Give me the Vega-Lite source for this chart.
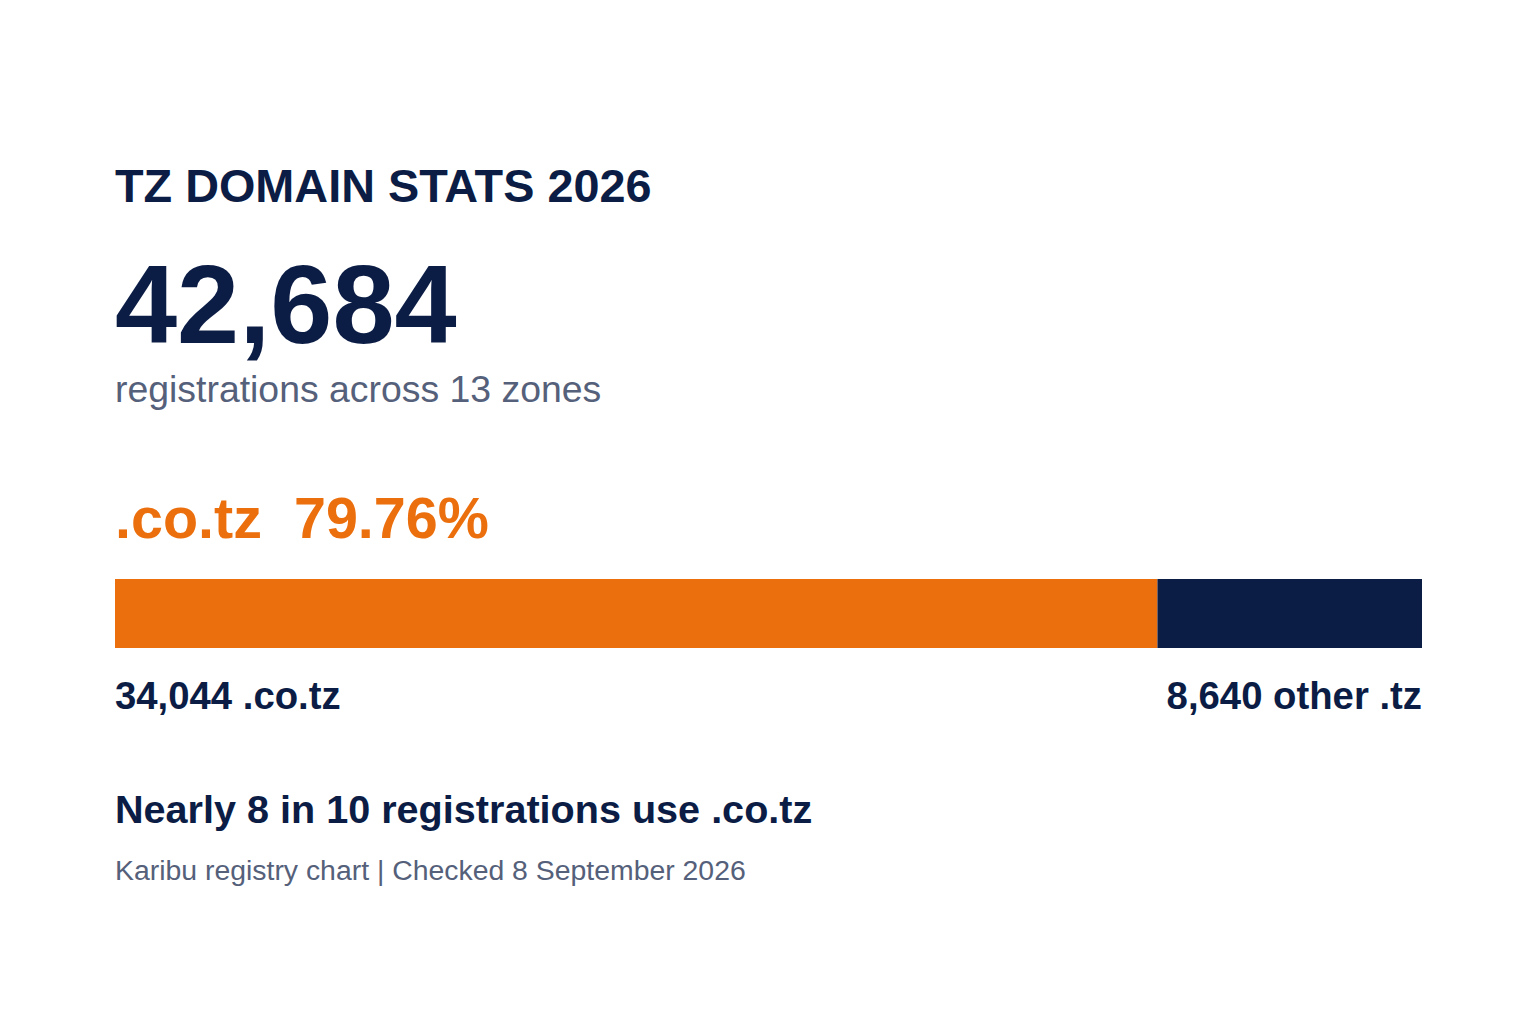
{
  "$schema": "https://vega.github.io/schema/vega-lite/v6.json",
  "width": 1307,
  "height": 69,
  "autosize": {"type": "none"},
  "padding": {"left": 115, "top": 579, "right": 114, "bottom": 376},
  "background": "white",
  "config": {
    "view": {"stroke": null},
    "font": "Liberation Sans",
    "text": {"font": "Liberation Sans", "baseline": "alphabetic", "align": "left"}
  },
  "datasets": {
    "zones": [
      {"zone": ".co.tz", "registrations": 34044},
      {"zone": "other .tz", "registrations": 8640}
    ],
    "notes": [
      {
        "kicker": "TZ DOMAIN STATS 2026",
        "subline": "registrations across 13 zones",
        "headline": "Nearly 8 in 10 registrations use .co.tz",
        "source": "Karibu registry chart | Checked 8 September 2026"
      }
    ]
  },
  "layer": [
    {
      "data": {"name": "zones"},
      "mark": {"type": "bar", "cornerRadius": 0},
      "encoding": {
        "x": {
          "field": "registrations",
          "type": "quantitative",
          "stack": "zero",
          "scale": {"nice": false, "zero": true},
          "axis": null
        },
        "y": {
          "datum": "share",
          "type": "nominal",
          "scale": {"paddingInner": 0, "paddingOuter": 0},
          "axis": null
        },
        "color": {
          "field": "zone",
          "type": "nominal",
          "scale": {"domain": [".co.tz", "other .tz"], "range": ["#EC6F0D", "#0B1C45"]},
          "legend": null
        },
        "order": {"field": "registrations", "sort": "descending"}
      }
    },
    {
      "data": {"name": "notes"},
      "mark": {"type": "text", "fontSize": 46.8, "fontWeight": "bold", "color": "#0B1C45", "dy": -411.5},
      "encoding": {
        "x": {"datum": 0, "type": "quantitative"},
        "text": {"field": "kicker"}
      }
    },
    {
      "data": {"name": "zones"},
      "transform": [{"aggregate": [{"op": "sum", "field": "registrations", "as": "total"}]}],
      "mark": {"type": "text", "fontSize": 111.7, "fontWeight": "bold", "color": "#0B1C45", "dy": -270.5},
      "encoding": {
        "x": {"datum": 0, "type": "quantitative"},
        "text": {"field": "total", "type": "quantitative", "format": ","}
      }
    },
    {
      "data": {"name": "notes"},
      "mark": {"type": "text", "fontSize": 37.4, "color": "#55607A", "dy": -211.5},
      "encoding": {
        "x": {"datum": 0, "type": "quantitative"},
        "text": {"field": "subline"}
      }
    },
    {
      "data": {"name": "zones"},
      "transform": [
        {"joinaggregate": [{"op": "sum", "field": "registrations", "as": "total"}]},
        {"filter": "datum.zone === '.co.tz'"},
        {"calculate": "datum.zone + '\u00a0\u00a0' + format(datum.registrations / datum.total * 100, '.2f') + '%'", "as": "label"}
      ],
      "mark": {"type": "text", "fontSize": 57.5, "fontWeight": "bold", "color": "#EC6F0D", "dy": -75.5},
      "encoding": {
        "x": {"datum": 0, "type": "quantitative"},
        "text": {"field": "label"}
      }
    },
    {
      "data": {"name": "zones"},
      "transform": [
        {"filter": "datum.zone === '.co.tz'"},
        {"calculate": "format(datum.registrations, ',') + ' ' + datum.zone", "as": "label"}
      ],
      "mark": {"type": "text", "fontSize": 38.3, "fontWeight": "bold", "color": "#0B1C45", "dy": 95.5},
      "encoding": {
        "x": {"datum": 0, "type": "quantitative"},
        "text": {"field": "label"}
      }
    },
    {
      "data": {"name": "zones"},
      "transform": [
        {"joinaggregate": [{"op": "sum", "field": "registrations", "as": "total"}]},
        {"filter": "datum.zone !== '.co.tz'"},
        {"calculate": "format(datum.registrations, ',') + ' ' + datum.zone", "as": "label"}
      ],
      "mark": {"type": "text", "fontSize": 38.3, "fontWeight": "bold", "color": "#0B1C45", "align": "right", "dy": 95.5},
      "encoding": {
        "x": {"field": "total", "type": "quantitative"},
        "text": {"field": "label"}
      }
    },
    {
      "data": {"name": "notes"},
      "mark": {"type": "text", "fontSize": 39.6, "fontWeight": "bold", "color": "#0B1C45", "dy": 209.5},
      "encoding": {
        "x": {"datum": 0, "type": "quantitative"},
        "text": {"field": "headline"}
      }
    },
    {
      "data": {"name": "notes"},
      "mark": {"type": "text", "fontSize": 28.4, "color": "#55607A", "dy": 266.5},
      "encoding": {
        "x": {"datum": 0, "type": "quantitative"},
        "text": {"field": "source"}
      }
    }
  ]
}
